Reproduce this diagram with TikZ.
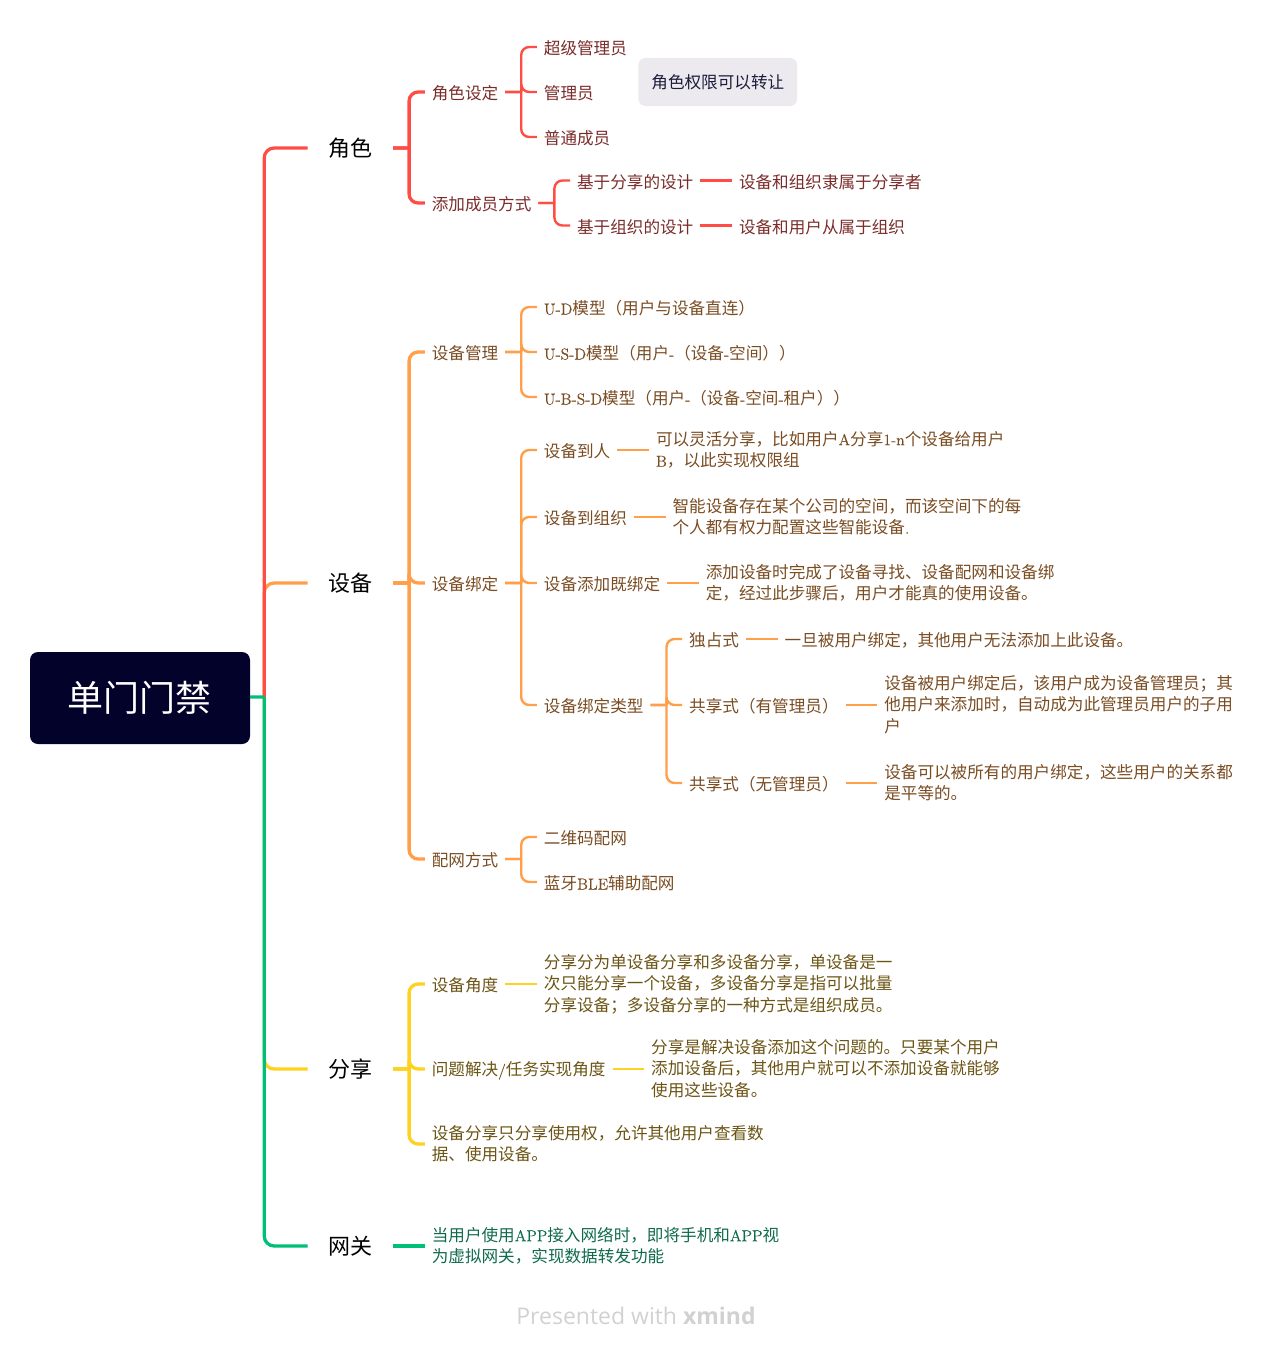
\documentclass[tikz,border=0pt]{standalone}
\usepackage{fontspec}
\usepackage{xcolor}
\usetikzlibrary{positioning}
\newfontfamily\cjk{Noto Sans CJK SC}
\newfontfamily\latfont[Scale=0.95,FakeBold=0.25]{lmroman12-regular.otf}
\newfontfamily\brandfont{Open Sans}
\newcommand{\lat}[1]{{\latfont #1}}
\definecolor{RootFill}{HTML}{02022A}
\definecolor{NoteFill}{HTML}{ECEAEE}
\definecolor{NoteText}{HTML}{1C1C3C}
\definecolor{RedLine}{HTML}{FF4D45}
\definecolor{RedText}{HTML}{7A2C2A}
\definecolor{OrangeLine}{HTML}{FF9F4A}
\definecolor{OrangeText}{HTML}{7A4C22}
\definecolor{YellowLine}{HTML}{FFD21F}
\definecolor{YellowText}{HTML}{6B5414}
\definecolor{GreenLine}{HTML}{00BF78}
\definecolor{GreenText}{HTML}{0F6B4A}
\tikzset{
  rootbox/.style={
    rectangle, rounded corners=8pt, minimum width=220pt, minimum height=92pt,
    fill=RootFill, text=white, font=\cjk\fontsize{36}{44}\selectfont
  },
  topic/.style={
    rectangle, inner xsep=20.6pt, inner ysep=0pt, text=black,
    font=\cjk\fontsize{22}{28}\selectfont
  },
  sub/.style={
    rectangle, inner xsep=6.8pt, inner ysep=0pt, align=left,
    font=\cjk\fontsize{16.6}{21.5}\selectfont,
    execute at begin node={\rule{0pt}{17.2pt}},
    execute at end node={\rule[-2.2pt]{0pt}{2.2pt}}
  },
  redsub/.style={sub, text=RedText},
  orangesub/.style={sub, text=OrangeText},
  yellowsub/.style={sub, text=YellowText},
  greensub/.style={sub, text=GreenText},
  notebox/.style={
    rectangle, rounded corners=7pt, minimum height=48pt, inner xsep=13pt,
    fill=NoteFill, text=NoteText, font=\cjk\fontsize{16.6}{21.5}\selectfont
  },
  redlink/.style={draw=RedLine, line width=2.4pt},
  orangelink/.style={draw=OrangeLine, line width=2.4pt},
  yellowlink/.style={draw=YellowLine, line width=2.4pt},
  greenlink/.style={draw=GreenLine, line width=2.4pt},
  main/.style={line width=3.3pt}
}

\begin{document}
\begin{tikzpicture}[x=1pt, y=-1pt, node distance=31.7pt]
\useasboundingbox (0,0) rectangle (1269,1346);

\node[rootbox] (root) at (140,698) {\hspace*{-2pt}单门门禁};
\node[topic, anchor=west] (role) at (307.5,148) {角色};
\node[topic, anchor=west] (device) at (307.5,583) {设备};
\node[topic, anchor=west] (share) at (307.5,1069) {分享};
\node[topic, anchor=west] (gateway) at (307.5,1246) {网关};

% Red branch
\node[redsub, right=of role, yshift=56pt] (roleset) {角色设定};
\node[redsub, right=of role, yshift=-55pt] (addmember) {添加成员方式};
\node[redsub, right=of roleset, yshift=45pt] (superadmin) {超级管理员};
\node[redsub, right=of roleset] (admin) {管理员};
\node[redsub, right=of roleset, yshift=-45pt] (normal) {普通成员};
\node[notebox, right=37.5pt of admin, yshift=10pt] (note) {角色权限可以转让};
\node[redsub, right=of addmember, yshift=22.5pt] (sharedesign) {基于分享的设计};
\node[redsub, right=of addmember, yshift=-22.5pt] (orgdesign) {基于组织的设计};
\node[redsub, right=of sharedesign] (shareowner) {设备和组织隶属于分享者};
\node[redsub, right=of orgdesign] (orgowner) {设备和用户从属于组织};

% Orange branch
\node[orangesub, right=of device, yshift=231pt] (devmanage) {设备管理};
\node[orangesub, right=of device] (devbind) {设备绑定};
\node[orangesub, right=of device, yshift=-276pt] (netconfig) {配网方式};
\node[orangesub, right=of devmanage, yshift=45pt] (ud) {\lat{U-D}模型（用户与设备直连）};
\node[orangesub, right=of devmanage] (usd) {\lat{U-S-D}模型（用户\lat{-}（设备\lat{-}空间））};
\node[orangesub, right=of devmanage, yshift=-45pt] (ubsd) {\lat{U-B-S-D}模型（用户\lat{-}（设备\lat{-}空间\lat{-}租户））};
\node[orangesub, right=of devbind, yshift=133pt] (toperson) {设备到人};
\node[orangesub, right=of devbind, yshift=66pt] (toorg) {设备到组织};
\node[orangesub, right=of devbind] (onadd) {设备添加既绑定};
\node[orangesub, right=of devbind, yshift=-122pt] (bindtype) {设备绑定类型};
\node[orangesub, right=of toperson] (personleaf) {可以灵活分享，比如用户\lat{A}分享\lat{1-n}个设备给用户\\\lat{B}，以此实现权限组};
\node[orangesub, right=of toorg] (orgleaf) {智能设备存在某个公司的空间，而该空间下的每\\个人都有权力配置这些智能设备\lat{.}};
\node[orangesub, right=of onadd] (addleaf) {添加设备时完成了设备寻找、设备配网和设备绑\\定，经过此步骤后，用户才能真的使用设备。};
\node[orangesub, right=of bindtype, yshift=66pt] (exclusive) {独占式};
\node[orangesub, right=of bindtype] (sharedadmin) {共享式（有管理员）};
\node[orangesub, right=of bindtype, yshift=-78pt] (sharednone) {共享式（无管理员）};
\node[orangesub, right=of exclusive] (exclusiveleaf) {一旦被用户绑定，其他用户无法添加上此设备。};
\node[orangesub, right=of sharedadmin] (adminleaf) {设备被用户绑定后，该用户成为设备管理员；其\\他用户来添加时，自动成为此管理员用户的子用\\户};
\node[orangesub, right=of sharednone] (noneleaf) {设备可以被所有的用户绑定，这些用户的关系都\\是平等的。};
\node[orangesub, right=of netconfig, yshift=22pt] (qrcode) {二维码配网};
\node[orangesub, right=of netconfig, yshift=-23pt] (ble) {蓝牙\lat{BLE}辅助配网};

% Yellow branch
\node[yellowsub, right=of share, yshift=85pt] (angle) {设备角度};
\node[yellowsub, right=of share] (solve) {问题解决\lat{/}任务实现角度};
\node[yellowsub, right=of share, yshift=-75pt] (shareuse) {设备分享只分享使用权，允许其他用户查看数\\据、使用设备。};
\node[yellowsub, right=of angle] (angleleaf) {分享分为单设备分享和多设备分享，单设备是一\\次只能分享一个设备，多设备分享是指可以批量\\分享设备；多设备分享的一种方式是组织成员。};
\node[yellowsub, right=of solve] (solveleaf) {分享是解决设备添加这个问题的。只要某个用户\\添加设备后，其他用户就可以不添加设备就能够\\使用这些设备。};

% Green branch
\node[greensub, right=of gateway] (gatewayleaf) {当用户使用\lat{APP}接入网络时，即将手机和\lat{APP}视\\为虚拟网关，实现数据转发功能};

\node[text=black!18, font=\brandfont\fontsize{23}{28}\selectfont] (brand) at (636,1316) {Presented with \textbf{xmind}};

% Links
\draw[orangelink, main, rounded corners=10pt] (root.east) ++(14,-1) |- (device.west);
\draw[yellowlink, main, rounded corners=10pt] (root.east) ++(14,-1) |- (share.west);
\draw[redlink, main, rounded corners=10pt] (root.east) ++(14,-1) |- (role.west);
\draw[greenlink, main, rounded corners=10pt] (root.east) ++(0,-1) -- ++(14,0) ++(0,0) |- (gateway.west);

\foreach \kid in {roleset,addmember}
  \draw[redlink, main, rounded corners=9pt] (role.east) -- ++(16,0) ++(0,0) |- (\kid.west);
\foreach \kid in {superadmin,admin,normal}
  \draw[redlink, rounded corners=8pt] (roleset.east) -- ++(16,0) ++(0,0) |- (\kid.west);
\foreach \kid in {sharedesign,orgdesign}
  \draw[redlink, rounded corners=8pt] (addmember.east) -- ++(16,0) ++(0,0) |- (\kid.west);
\draw[redlink] (sharedesign) -- (shareowner);
\draw[redlink] (orgdesign) -- (orgowner);

\foreach \kid in {devmanage,devbind,netconfig}
  \draw[orangelink, main, rounded corners=9pt] (device.east) -- ++(16,0) ++(0,0) |- (\kid.west);
\foreach \kid in {ud,usd,ubsd}
  \draw[orangelink, rounded corners=8pt] (devmanage.east) -- ++(16,0) ++(0,0) |- (\kid.west);
\foreach \kid in {toperson,toorg,onadd,bindtype}
  \draw[orangelink, rounded corners=8pt] (devbind.east) -- ++(16,0) ++(0,0) |- (\kid.west);
\foreach \kid in {exclusive,sharedadmin,sharednone}
  \draw[orangelink, rounded corners=8pt] (bindtype.east) -- ++(16,0) ++(0,0) |- (\kid.west);
\foreach \kid in {qrcode,ble}
  \draw[orangelink, rounded corners=8pt] (netconfig.east) -- ++(16,0) ++(0,0) |- (\kid.west);
\draw[orangelink] (toperson) -- (personleaf);
\draw[orangelink] (toorg) -- (orgleaf);
\draw[orangelink] (onadd) -- (addleaf);
\draw[orangelink] (exclusive) -- (exclusiveleaf);
\draw[orangelink] (sharedadmin) -- (adminleaf);
\draw[orangelink] (sharednone) -- (noneleaf);

\foreach \kid in {angle,solve,shareuse}
  \draw[yellowlink, main, rounded corners=9pt] (share.east) -- ++(16,0) ++(0,0) |- (\kid.west);
\draw[yellowlink] (angle) -- (angleleaf);
\draw[yellowlink] (solve) -- (solveleaf);

\draw[greenlink, main] (gateway) -- (gatewayleaf);

\end{tikzpicture}
\end{document}
